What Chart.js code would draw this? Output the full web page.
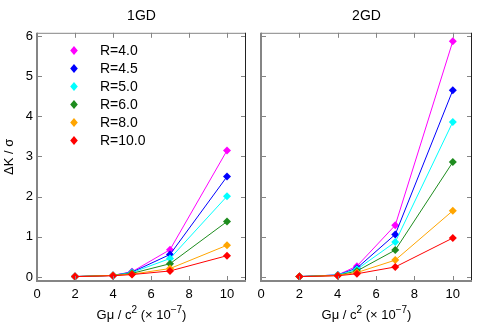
<!DOCTYPE html>
<html><head><meta charset="utf-8">
<script src="https://cdn.jsdelivr.net/npm/chart.js@4"></script>
<style>
html,body{margin:0;padding:0;background:#fff;width:480px;height:327px;overflow:hidden}
#c1{position:absolute;left:0;top:0;width:250px;height:327px}
#c2{position:absolute;left:250px;top:0;width:230px;height:327px}
</style></head><body>
<canvas id="c1" width="250" height="327"></canvas>
<canvas id="c2" width="230" height="327"></canvas>
<script>
// ---- data ----
const xValues = [2, 4, 5, 7, 10];
const seriesLabels = ['R=4.0', 'R=4.5', 'R=5.0', 'R=6.0', 'R=8.0', 'R=10.0'];
const seriesColors = ['#ff00ff', '#0000ff', '#00ffff', '#1e8c1e', '#ffa500', '#ff0000'];
const panelTitles = ['1GD', '2GD'];
const xTicks = [0, 2, 4, 6, 8, 10];
const yTicks = [0, 1, 2, 3, 4, 5, 6];
// x title pieces: [text, isSuperscript]
const xTitleParts = [['Gμ / c', false], ['2', true], [' (× 10', false], ['−7', true], [')', false]];
const yTitle = 'ΔK / σ';

// 1GD
const gd1_R40 = [0.01, 0.04, 0.13, 0.68, 3.15];
const gd1_R45 = [0.01, 0.04, 0.12, 0.56, 2.50];
const gd1_R50 = [0.01, 0.04, 0.11, 0.46, 2.01];
const gd1_R60 = [0.01, 0.04, 0.09, 0.33, 1.38];
const gd1_R80 = [0.01, 0.04, 0.07, 0.21, 0.79];
const gd1_R100 = [0.01, 0.03, 0.06, 0.15, 0.53];
// 2GD
const gd2_R40 = [0.01, 0.05, 0.27, 1.29, 5.87];
const gd2_R45 = [0.01, 0.05, 0.22, 1.06, 4.65];
const gd2_R50 = [0.01, 0.05, 0.19, 0.87, 3.86];
const gd2_R60 = [0.01, 0.04, 0.15, 0.67, 2.86];
const gd2_R80 = [0.01, 0.04, 0.11, 0.42, 1.65];
const gd2_R100 = [0.01, 0.03, 0.08, 0.25, 0.97];

const gd1 = [gd1_R40, gd1_R45, gd1_R50, gd1_R60, gd1_R80, gd1_R100];
const gd2 = [gd2_R40, gd2_R45, gd2_R50, gd2_R60, gd2_R80, gd2_R100];

const FONT = "'Liberation Sans', Arial, Helvetica, sans-serif";
const AXIS_GRAY = '#858585';

function makeDatasets(series) {
  return series.map((vals, i) => ({
    label: seriesLabels[i],
    data: xValues.map((x, k) => ({x: x, y: vals[k]})),
    borderColor: seriesColors[i],
    backgroundColor: seriesColors[i],
    borderWidth: 1,
    pointStyle: 'rectRot',
    pointRadius: 4,
    pointBorderWidth: 0,
    showLine: true,
    order: series.length - i
  }));
}

const frameTicks = {
  id: 'frameTicks',
  afterDraw(chart) {
    const {ctx, chartArea: a, scales: {x, y}} = chart;
    const L = 5;
    ctx.save();
    const line = (x1, y1, x2, y2) => { ctx.beginPath(); ctx.moveTo(x1, y1); ctx.lineTo(x2, y2); ctx.stroke(); };
    ctx.strokeStyle = AXIS_GRAY; ctx.lineWidth = 1;
    for (const t of xTicks) {
      const px = Math.round(x.getPixelForValue(t)) + 0.5;
      line(px, a.bottom, px, a.bottom - L);
      line(px, a.top, px, a.top + L);
    }
    for (const t of yTicks) {
      const py = Math.round(y.getPixelForValue(t)) + 0.5;
      line(a.left, py, a.left + L, py);
      line(a.right, py, a.right - L, py);
    }
    // frame
    ctx.lineWidth = 1;
    line(a.left, a.top + 0.5, a.right, a.top + 0.5);
    ctx.strokeStyle = '#222';
    line(a.right - 0.5, a.top, a.right - 0.5, a.bottom);
    ctx.strokeStyle = AXIS_GRAY; ctx.lineWidth = 2;
    line(a.left, a.top, a.left, a.bottom + 1);
    line(a.left - 1, a.bottom, a.right, a.bottom);

    // x-axis title with real superscripts
    const baseFont = '13px ' + FONT, supFont = '10px ' + FONT;
    let total = 0;
    for (const [t, sup] of xTitleParts) { ctx.font = sup ? supFont : baseFont; total += ctx.measureText(t).width; }
    let cx = (a.left + a.right) / 2 - total / 2;
    const baseY = 319;
    ctx.fillStyle = '#000'; ctx.textBaseline = 'alphabetic'; ctx.textAlign = 'left';
    for (const [t, sup] of xTitleParts) {
      ctx.font = sup ? supFont : baseFont;
      ctx.fillText(t, cx, sup ? baseY - 6 : baseY);
      cx += ctx.measureText(t).width;
    }
    ctx.restore();
  }
};

const legendPlugin = {
  id: 'innerLegend',
  afterDraw(chart) {
    const ctx = chart.ctx;
    ctx.save();
    ctx.font = '14px ' + FONT;
    ctx.textBaseline = 'middle';
    ctx.textAlign = 'left';
    seriesLabels.forEach((lab, i) => {
      const cy = 50.5 + 18 * i;
      const cx = 74;
      ctx.fillStyle = seriesColors[i];
      ctx.beginPath();
      ctx.moveTo(cx, cy - 4.5); ctx.lineTo(cx + 3.8, cy); ctx.lineTo(cx, cy + 4.5); ctx.lineTo(cx - 3.8, cy); ctx.closePath();
      ctx.fill();
      ctx.fillStyle = '#000';
      ctx.fillText(lab, 100, cy + 1);
    });
    ctx.restore();
  }
};

function makeChart(id, series, title, showY, yWidth, padRight, withLegend) {
  return new Chart(document.getElementById(id), {
    type: 'scatter',
    data: {datasets: makeDatasets(series)},
    options: {
      responsive: false,
      animation: false,
      events: [],
      layout: {padding: {top: 0, right: padRight, bottom: 0, left: 0}},
      plugins: {
        legend: {display: false},
        tooltip: {enabled: false},
        title: {display: true, text: title, fullSize: false, color: '#000',
                font: {family: FONT, size: 14, weight: 'normal'}, padding: {top: 8, bottom: 8}}
      },
      scales: {
        x: {
          type: 'linear', min: 0, max: 11,
          afterFit: s => { s.height = 46; },
          grid: {display: false, drawTicks: false},
          border: {display: false},
          ticks: {stepSize: 2, includeBounds: false, color: '#000', padding: 6,
                  font: {family: FONT, size: 13}, maxRotation: 0},
          title: {display: false}
        },
        y: {
          type: 'linear', min: -0.1, max: 6.08,
          afterFit: s => { s.width = yWidth; },
          grid: {display: false, drawTicks: false},
          border: {display: false},
          ticks: {display: showY, stepSize: 1, includeBounds: false, color: '#000', padding: 4,
                  font: {family: FONT, size: 13}},
          title: {display: showY, text: yTitle, color: '#000', font: {family: FONT, size: 13},
                  padding: {top: 2, bottom: 2}}
        }
      }
    },
    plugins: withLegend ? [frameTicks, legendPlugin] : [frameTicks]
  });
}

makeChart('c1', gd1, panelTitles[0], true, 37, 1, true);
makeChart('c2', gd2, panelTitles[1], false, 11, 8, false);
</script>
</body></html>
